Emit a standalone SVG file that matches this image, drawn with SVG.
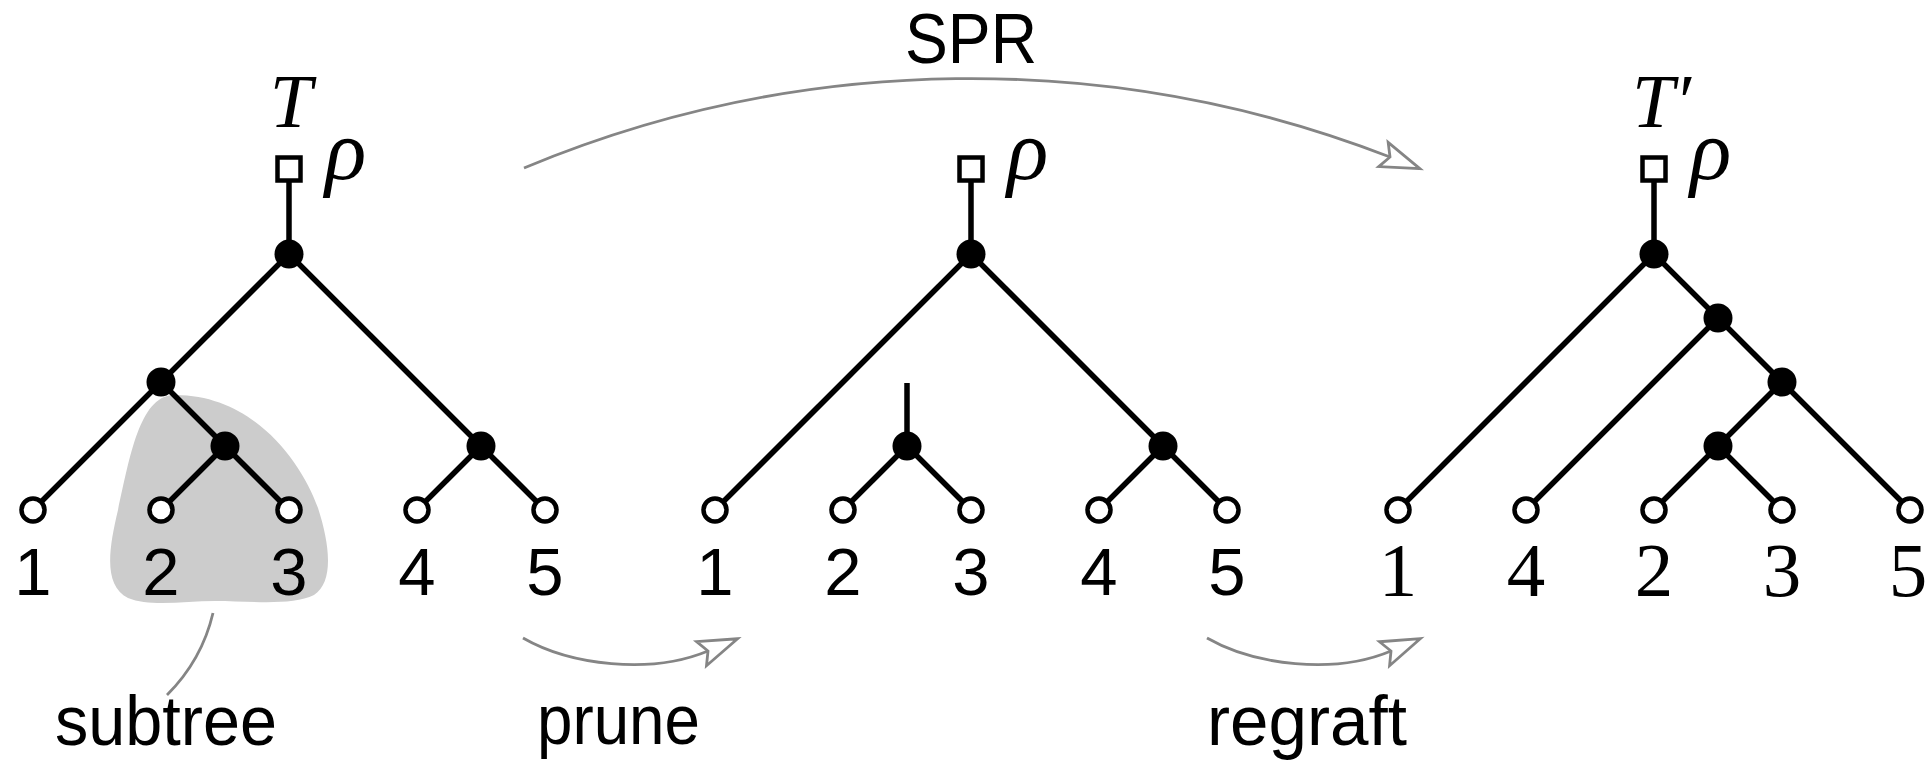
<svg xmlns="http://www.w3.org/2000/svg" width="1928" height="761" viewBox="0 0 1928 761">
  <defs>
    <style>
      .edge { stroke: #000; stroke-width: 5.5; fill: none; }
      .leaf { fill: #fff; stroke: #000; stroke-width: 4.5; }
      .inner { fill: #000; }
      .rootsq { fill: #fff; stroke: #000; stroke-width: 4.5; }
      .gray { stroke: #858585; stroke-width: 2.8; fill: none; }
      .lab { font-family: "Liberation Sans", Arial, sans-serif; font-size: 67px; text-anchor: middle; fill: #000; }
      .labs { font-family: "Liberation Serif", "Times New Roman", serif; font-size: 77px; text-anchor: middle; fill: #000; }
      .math { font-family: "Liberation Serif", "Times New Roman", serif; font-style: italic; fill: #000; }
      .word { font-family: "Liberation Sans", Arial, sans-serif; font-size: 70px; fill: #000; }
    </style>
    <marker id="open" markerUnits="userSpaceOnUse" markerWidth="48" markerHeight="34" viewBox="-4 -4 48 34" refX="7" refY="13" orient="auto">
      <path d="M39,13 L0,0 L7,13 L0,26 Z" fill="#fff" stroke="#858585" stroke-width="2.8" stroke-linejoin="miter"/>
    </marker>
  </defs>
  <rect width="1928" height="761" fill="#fff"/>

  <g id="subtree-blob">
    <path d="M172,395 C140,398 130,455 118,510 C108,552 104,585 128,598 C150,607 185,601 215,601 C250,601 292,606 314,595 C334,582 330,545 318,508 C300,458 250,393 172,395 Z" fill="#cccccc"/>
  </g>

  <g id="connectors">
    <!-- tree T -->
    <line class="edge" x1="289" y1="169" x2="289" y2="254"/>
    <line class="edge" x1="289" y1="254" x2="161" y2="382"/>
    <line class="edge" x1="289" y1="254" x2="481" y2="446"/>
    <line class="edge" x1="161" y1="382" x2="33" y2="510"/>
    <line class="edge" x1="161" y1="382" x2="225" y2="446"/>
    <line class="edge" x1="225" y1="446" x2="161" y2="510"/>
    <line class="edge" x1="225" y1="446" x2="289" y2="510"/>
    <line class="edge" x1="481" y1="446" x2="417" y2="510"/>
    <line class="edge" x1="481" y1="446" x2="545" y2="510"/>
    <!-- pruned tree -->
    <line class="edge" x1="971" y1="169" x2="971" y2="254"/>
    <line class="edge" x1="971" y1="254" x2="715" y2="510"/>
    <line class="edge" x1="971" y1="254" x2="1163" y2="446"/>
    <line class="edge" x1="1163" y1="446" x2="1099" y2="510"/>
    <line class="edge" x1="1163" y1="446" x2="1227" y2="510"/>
    <line class="edge" x1="907" y1="383" x2="907" y2="446"/>
    <line class="edge" x1="907" y1="446" x2="843" y2="510"/>
    <line class="edge" x1="907" y1="446" x2="971" y2="510"/>
    <!-- tree T' -->
    <line class="edge" x1="1654" y1="169" x2="1654" y2="254"/>
    <line class="edge" x1="1654" y1="254" x2="1398" y2="510"/>
    <line class="edge" x1="1654" y1="254" x2="1718" y2="318"/>
    <line class="edge" x1="1718" y1="318" x2="1526" y2="510"/>
    <line class="edge" x1="1718" y1="318" x2="1782" y2="382"/>
    <line class="edge" x1="1782" y1="382" x2="1718" y2="446"/>
    <line class="edge" x1="1782" y1="382" x2="1910" y2="510"/>
    <line class="edge" x1="1718" y1="446" x2="1654" y2="510"/>
    <line class="edge" x1="1718" y1="446" x2="1782" y2="510"/>
    <!-- gray arrows -->
    <path id="spr-arrow" class="gray" d="M524,168 A1160,1160 0 0 1 1390,157" marker-end="url(#open)"/>
    <path id="prune-arrow" class="gray" d="M523,638 C570,665 650,675 708,651" marker-end="url(#open)"/>
    <path id="regraft-arrow" class="gray" d="M1207,638 C1254,665 1334,675 1391,651" marker-end="url(#open)"/>
    <path id="subtree-pointer" class="gray" d="M213,613 Q202,660 167,695"/>
  </g>

  <!-- Tree T -->
  <g id="T-root"><rect class="rootsq" x="277.5" y="157.5" width="23" height="23"/></g>
  <g id="T-n0"><circle class="inner" cx="289" cy="254" r="14.5"/></g>
  <g id="T-n1"><circle class="inner" cx="161" cy="382" r="14.5"/></g>
  <g id="T-n2"><circle class="inner" cx="225" cy="446" r="14.5"/></g>
  <g id="T-n3"><circle class="inner" cx="481" cy="446" r="14.5"/></g>
  <g id="T-leaf1"><circle class="leaf" cx="33" cy="510" r="11.5"/><text class="lab" x="33" y="595">1</text></g>
  <g id="T-leaf2"><circle class="leaf" cx="161" cy="510" r="11.5"/><text class="lab" x="161" y="595">2</text></g>
  <g id="T-leaf3"><circle class="leaf" cx="289" cy="510" r="11.5"/><text class="lab" x="289" y="595">3</text></g>
  <g id="T-leaf4"><circle class="leaf" cx="417" cy="510" r="11.5"/><text class="lab" x="417" y="595">4</text></g>
  <g id="T-leaf5"><circle class="leaf" cx="545" cy="510" r="11.5"/><text class="lab" x="545" y="595">5</text></g>
  <g id="T-labels">
    <text class="math" x="291" y="127" font-size="76" text-anchor="middle">T</text>
    <text class="math" x="325" y="179" font-size="86">ρ</text>
  </g>

  <!-- Pruned tree -->
  <g id="P-root"><rect class="rootsq" x="959.5" y="157.5" width="23" height="23"/></g>
  <g id="P-n0"><circle class="inner" cx="971" cy="254" r="14.5"/></g>
  <g id="P-n2"><circle class="inner" cx="907" cy="446" r="14.5"/></g>
  <g id="P-n3"><circle class="inner" cx="1163" cy="446" r="14.5"/></g>
  <g id="P-leaf1"><circle class="leaf" cx="715" cy="510" r="11.5"/><text class="lab" x="715" y="595">1</text></g>
  <g id="P-leaf2"><circle class="leaf" cx="843" cy="510" r="11.5"/><text class="lab" x="843" y="595">2</text></g>
  <g id="P-leaf3"><circle class="leaf" cx="971" cy="510" r="11.5"/><text class="lab" x="971" y="595">3</text></g>
  <g id="P-leaf4"><circle class="leaf" cx="1099" cy="510" r="11.5"/><text class="lab" x="1099" y="595">4</text></g>
  <g id="P-leaf5"><circle class="leaf" cx="1227" cy="510" r="11.5"/><text class="lab" x="1227" y="595">5</text></g>
  <g id="P-labels">
    <text class="math" x="1007" y="179" font-size="86">ρ</text>
  </g>

  <!-- Tree T' -->
  <g id="Tp-root"><rect class="rootsq" x="1642.5" y="157.5" width="23" height="23"/></g>
  <g id="Tp-n0"><circle class="inner" cx="1654" cy="254" r="14.5"/></g>
  <g id="Tp-n1"><circle class="inner" cx="1718" cy="318" r="14.5"/></g>
  <g id="Tp-n2"><circle class="inner" cx="1782" cy="382" r="14.5"/></g>
  <g id="Tp-n3"><circle class="inner" cx="1718" cy="446" r="14.5"/></g>
  <g id="Tp-leaf1"><circle class="leaf" cx="1398" cy="510" r="11.5"/><text class="labs" x="1398" y="596">1</text></g>
  <g id="Tp-leaf4"><circle class="leaf" cx="1526" cy="510" r="11.5"/><text class="labs" x="1526" y="596">4</text></g>
  <g id="Tp-leaf2"><circle class="leaf" cx="1654" cy="510" r="11.5"/><text class="labs" x="1654" y="596">2</text></g>
  <g id="Tp-leaf3"><circle class="leaf" cx="1782" cy="510" r="11.5"/><text class="labs" x="1782" y="596">3</text></g>
  <g id="Tp-leaf5"><circle class="leaf" cx="1910" cy="510" r="11.5"/><text class="labs" x="1908" y="596">5</text></g>
  <g id="Tp-labels">
    <text class="math" x="1632" y="127" font-size="76">T′</text>
    <text class="math" x="1690" y="179" font-size="86">ρ</text>
  </g>

  <g id="captions">
    <text class="word" x="971" y="63" text-anchor="middle" textLength="132" lengthAdjust="spacingAndGlyphs" font-size="72">SPR</text>
    <text class="word" x="55" y="745" textLength="222" lengthAdjust="spacingAndGlyphs">subtree</text>
    <text class="word" x="537" y="744" textLength="163" lengthAdjust="spacingAndGlyphs">prune</text>
    <text class="word" x="1207" y="745" textLength="200" lengthAdjust="spacingAndGlyphs">regraft</text>
  </g>
</svg>
